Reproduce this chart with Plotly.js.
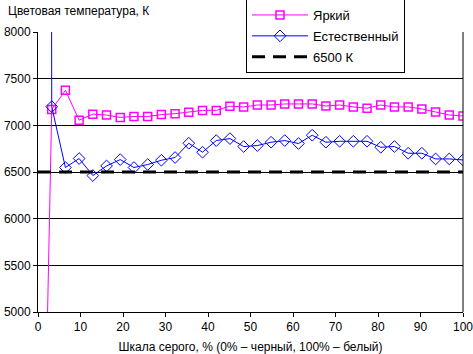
<!DOCTYPE html>
<html>
<head>
<meta charset="utf-8">
<script src="https://cdn.plot.ly/plotly-3.0.1.min.js"></script>
<style>html,body{margin:0;padding:0;background:#fff;}#chart{width:473px;height:354px;}</style>
</head>
<body>
<div id="chart"></div>
<script>
const grayLevels = [0, 3.23, 6.45, 9.68, 12.9, 16.13, 19.35, 22.58, 25.81, 29.03, 32.26, 35.48, 38.71, 41.94, 45.16, 48.39, 51.61, 54.84, 58.06, 61.29, 64.52, 67.74, 70.97, 74.19, 77.42, 80.65, 83.87, 87.1, 90.32, 93.55, 96.77, 100];
const brightValues = [0, 7170, 7375, 7055, 7120, 7110, 7085, 7095, 7095, 7115, 7125, 7140, 7160, 7160, 7205, 7197, 7218, 7218, 7229, 7229, 7229, 7207, 7218, 7197, 7183, 7218, 7197, 7197, 7176, 7143, 7111, 7100];
const naturalValues = [100000, 7200, 6548, 6644, 6462, 6565, 6633, 6548, 6580, 6626, 6655, 6808, 6712, 6837, 6858, 6773, 6783, 6819, 6837, 6805, 6894, 6819, 6829, 6829, 6829, 6765, 6773, 6701, 6701, 6640, 6640, 6629];
const refX = [0, 100];
const refY = [6500, 6500];
const seriesNames = ["Яркий", "Естественный", "6500 К"];
const yTicks = [5000, 5500, 6000, 6500, 7000, 7500, 8000];
const xTicks = [0, 10, 20, 30, 40, 50, 60, 70, 80, 90, 100];

const font = {family: "Liberation Sans, Arial, sans-serif", size: 12, color: "#000"};

const traces = [
  {x: grayLevels, y: brightValues, name: seriesNames[0], legendgroup: "a", type: "scatter", mode: "lines+markers",
   line: {color: "#FF00FF", width: 1},
   marker: {symbol: "square-open", size: 8, color: "#FF00FF", line: {color: "#FF00FF", width: 1.5}}},
  {x: grayLevels, y: naturalValues, name: seriesNames[1], legendgroup: "b", type: "scatter", mode: "lines+markers",
   line: {color: "#0000FF", width: 1},
   marker: {symbol: "diamond-open", size: 9, color: "#0000FF", line: {color: "#0000FF", width: 1}}},
  {x: refX, y: refY, name: seriesNames[2], legendgroup: "c", type: "scatter", mode: "lines",
   line: {color: "#000", width: 3, dash: "13px,8px"}}
];

const layout = {
  width: 473, height: 354,
  margin: {l: 38, r: 10, t: 32, b: 42, autoexpand: false},
  paper_bgcolor: "#fff", plot_bgcolor: "#fff",
  font: font,
  showlegend: true,
  hovermode: false,
  title: {text: "Цветовая температура, К", font: {family: font.family, size: 12, color: "#000"},
          xref: "container", yref: "container", x: 8/473, xanchor: "left", y: 1 - 11/354, yanchor: "middle"},
  xaxis: {range: [0, 100], tickvals: xTicks, ticktext: xTicks.map(String),
          showgrid: false, zeroline: false, showline: true, linecolor: "#000", linewidth: 1, mirror: false,
          ticks: "outside", ticklen: 4, tickcolor: "#000", tickfont: font, ticklabeloverflow: "allow",
          automargin: false,
          title: {text: "Шкала серого, % (0% – черный, 100% – белый)", font: font, standoff: 12}},
  yaxis: {range: [5000, 8000], tickvals: yTicks, ticktext: yTicks.map(String),
          showgrid: true, gridcolor: "#000", gridwidth: 1, zeroline: false,
          showline: true, linecolor: "#000", linewidth: 1, automargin: false,
          ticks: "outside", ticklen: 4, tickcolor: "#000", tickfont: font, ticklabeloverflow: "allow"},
  shapes: [
    {type: "line", xref: "paper", yref: "paper", x0: 1, x1: 1, y0: 0, y1: 1, line: {color: "#000", width: 1}}
  ],
  legend: {x: (246-38)/425, xanchor: "left", y: (312+1)/280, yanchor: "top",
           bgcolor: "#fff", bordercolor: "#000", borderwidth: 1,
           font: {family: font.family, size: 13, color: "#000"},
           itemwidth: 56, tracegroupgap: 1, entrywidth: 116, entrywidthmode: "pixels"}
};

Plotly.newPlot("chart", traces, layout, {staticPlot: true, displayModeBar: false});
</script>
</body>
</html>
